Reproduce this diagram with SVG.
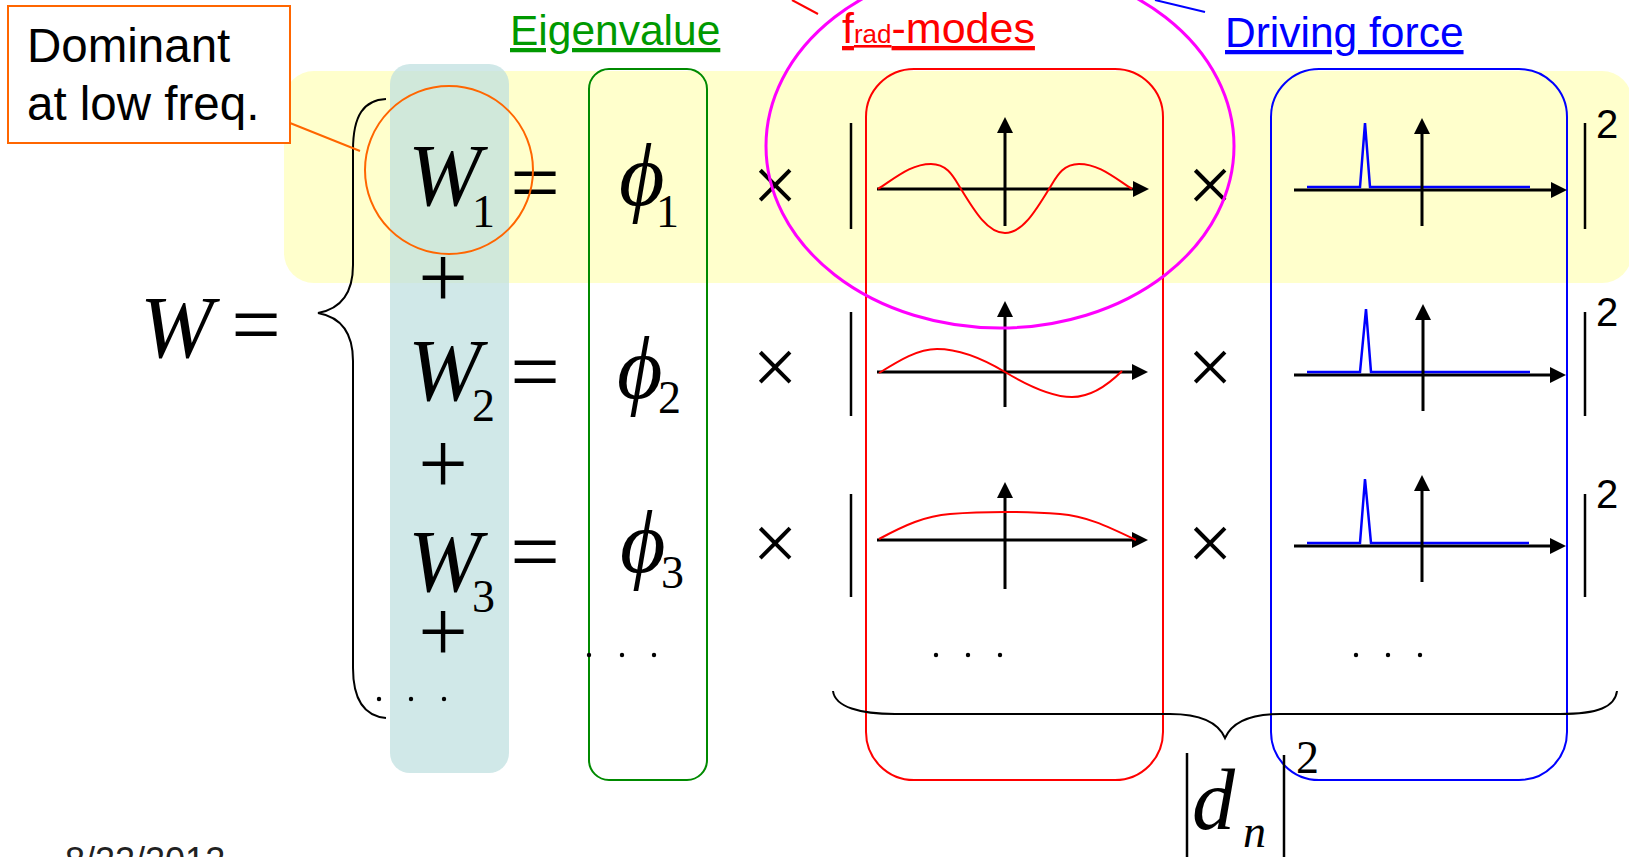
<svg xmlns="http://www.w3.org/2000/svg" width="1629" height="857" viewBox="0 0 1629 857">
<defs>
<style>
.m{font-family:"Liberation Serif","Times New Roman",serif;fill:#000}
.it{font-style:italic}
.big{font-size:88px}
.sub{font-size:46px}
.x{font-size:80px}
.sans{font-family:"Liberation Sans",Arial,sans-serif}
.sq{font-family:"Liberation Sans",Arial,sans-serif;font-size:40px;fill:#000}
.ax{stroke:#000;stroke-width:3;fill:none;marker-end:url(#arr)}
.mode{stroke:#f00;stroke-width:2;fill:none}
.drive{stroke:#00f;stroke-width:2.5;fill:none}
.bar{stroke:#000;stroke-width:2.5}
.brace{stroke:#000;stroke-width:2;fill:none}
</style>
<marker id="arr" viewBox="0 0 16 16" markerWidth="16" markerHeight="16" refX="8" refY="8" orient="auto" markerUnits="userSpaceOnUse"><path d="M0,0 L16,8 L0,16 z" fill="#000"/></marker>
</defs>
<rect width="1629" height="857" fill="#fff"/>

<g id="background">
<rect x="284" y="71" width="1348" height="212" rx="30" fill="#FFFFCC"/>
<rect x="390" y="64" width="119" height="709" rx="20" fill="#BFE0E0" fill-opacity="0.73"/>
</g>

<g id="callout">
<rect x="8" y="6" width="282" height="137" fill="#fff" stroke="#FF6600" stroke-width="2"/>
<text class="sans" font-size="47.5" x="27" y="62">Dominant</text>
<text class="sans" font-size="47.5" x="27" y="120">at low freq.</text>
</g>

<g id="label-eigenvalue">
<text class="sans" font-size="42.5" x="510" y="45" fill="#009900" text-decoration="underline">Eigenvalue</text>
</g>
<g id="label-frad">
<text class="sans" font-size="43" x="842" y="43" fill="#FF0000" text-decoration="underline">f<tspan font-size="26">rad</tspan>-modes</text>
</g>
<g id="label-driving">
<text class="sans" font-size="42.5" x="1225" y="47" fill="#0000FF" text-decoration="underline">Driving force</text>
</g>

<g id="box-eigen"><rect x="589" y="69" width="118" height="711" rx="20" fill="none" stroke="#008A00" stroke-width="2"/></g>
<g id="box-modes"><rect x="866" y="69" width="297" height="711" rx="48" fill="none" stroke="#FF0000" stroke-width="2"/></g>
<g id="box-drive"><rect x="1271" y="69" width="296" height="711" rx="48" fill="none" stroke="#0000FF" stroke-width="2"/></g>

<g id="W-sum">
<text class="m it big" x="140" y="357">W</text>
<text class="m big" x="256" y="354" text-anchor="middle">=</text>
<path class="brace" d="M386,99 C364,100 353,115 353,150 L353,265 C353,295 340,309 318,313 C340,317 353,331 353,361 L353,668 C353,700 364,716 386,718"/>
<circle cx="379" cy="699" r="2.2"/><circle cx="411" cy="699" r="2.2"/><circle cx="444" cy="699" r="2.2"/>
</g>

<g id="W-terms">
<text class="m it big" x="408" y="205">W</text><text class="m sub" x="472" y="227">1</text>
<text class="m big" x="443" y="307" text-anchor="middle">+</text>
<text class="m it big" x="408" y="400">W</text><text class="m sub" x="472" y="421">2</text>
<text class="m big" x="443" y="493" text-anchor="middle">+</text>
<text class="m it big" x="408" y="591">W</text><text class="m sub" x="472" y="612">3</text>
<text class="m big" x="443" y="661" text-anchor="middle">+</text>
</g>

<g id="equals">
<text class="m big" x="535" y="212" text-anchor="middle">=</text>
<text class="m big" x="535" y="401" text-anchor="middle">=</text>
<text class="m big" x="535" y="581" text-anchor="middle">=</text>
</g>

<g id="eigenvalues">
<text class="m it big" x="619" y="205">ϕ</text><text class="m sub" x="656" y="227">1</text>
<text class="m it big" x="617" y="398">ϕ</text><text class="m sub" x="658" y="413">2</text>
<text class="m it big" x="620" y="572">ϕ</text><text class="m sub" x="661" y="588">3</text>
<circle cx="589" cy="655" r="2.2"/><circle cx="622" cy="655" r="2.2"/><circle cx="654" cy="655" r="2.2"/>
</g>

<g id="times">
<text class="m x" x="775" y="212" text-anchor="middle">×</text>
<text class="m x" x="775" y="394" text-anchor="middle">×</text>
<text class="m x" x="775" y="570" text-anchor="middle">×</text>
<text class="m x" x="1210" y="212" text-anchor="middle">×</text>
<text class="m x" x="1210" y="394" text-anchor="middle">×</text>
<text class="m x" x="1210" y="570" text-anchor="middle">×</text>
</g>

<g id="abs-bars">
<line class="bar" x1="851" y1="123" x2="851" y2="229"/>
<line class="bar" x1="851" y1="312" x2="851" y2="416"/>
<line class="bar" x1="851" y1="494" x2="851" y2="597"/>
<line class="bar" x1="1585" y1="123" x2="1585" y2="229"/>
<line class="bar" x1="1585" y1="312" x2="1585" y2="416"/>
<line class="bar" x1="1585" y1="494" x2="1585" y2="597"/>
<text class="sq" x="1596" y="138">2</text>
<text class="sq" x="1596" y="326">2</text>
<text class="sq" x="1596" y="508">2</text>
</g>

<g id="mode-plots">
<line class="ax" x1="877" y1="189" x2="1141" y2="189"/>
<line class="ax" x1="1005" y1="226" x2="1005" y2="125"/>
<path class="mode" d="M878,189 C898,176 912,164 931,164 C948,164 954,178 961,189 C975,212 988,233 1005,233 C1022,233 1035,212 1049,189 C1056,178 1062,164 1079,164 C1098,164 1112,176 1132,189"/>
<line class="ax" x1="877" y1="372" x2="1140" y2="372"/>
<line class="ax" x1="1005" y1="407" x2="1005" y2="309"/>
<path class="mode" d="M879,373 C900,360 918,349 937,349 C960,349 985,360 1005,372 C1025,384 1050,397 1072,397 C1092,397 1108,385 1122,371"/>
<line class="ax" x1="877" y1="540" x2="1140" y2="540"/>
<line class="ax" x1="1005" y1="589" x2="1005" y2="490"/>
<path class="mode" d="M879,539 C905,525 925,516 950,514 C975,512 990,512 1005,512 C1020,512 1035,512 1060,514 C1085,516 1105,525 1136,540"/>
<circle cx="936" cy="655" r="2.2"/><circle cx="968" cy="655" r="2.2"/><circle cx="1000" cy="655" r="2.2"/>
</g>

<g id="drive-plots">
<line class="ax" x1="1294" y1="190" x2="1559" y2="190"/>
<polyline class="drive" points="1307,187 1360,187 1365,123 1370,187 1530,187"/>
<line class="ax" x1="1422" y1="226" x2="1422" y2="126"/>
<line class="ax" x1="1294" y1="375" x2="1558" y2="375"/>
<polyline class="drive" points="1307,372 1360,372 1366,309 1371,372 1530,372"/>
<line class="ax" x1="1423" y1="411" x2="1423" y2="312"/>
<line class="ax" x1="1294" y1="546" x2="1558" y2="546"/>
<polyline class="drive" points="1307,543 1360,543 1365,479 1371,543 1529,543"/>
<line class="ax" x1="1422" y1="582" x2="1422" y2="483"/>
<circle cx="1356" cy="655" r="2.2"/><circle cx="1388" cy="655" r="2.2"/><circle cx="1420" cy="655" r="2.2"/>
</g>

<g id="dn-term">
<path class="brace" d="M833,691 C835,707 860,714 895,714 L1170,714 C1200,714 1218,722 1225,738 C1232,722 1250,714 1280,714 L1560,714 C1598,714 1615,707 1617,691"/>
<line class="bar" x1="1187" y1="753" x2="1187" y2="860"/>
<line class="bar" x1="1284" y1="755" x2="1284" y2="860"/>
<text class="m it" font-size="86" x="1192" y="829">d</text>
<text class="m it sub" x="1243" y="847">n</text>
<text class="m sub" x="1296" y="773">2</text>
</g>

<g id="date">
<text class="sans" font-size="36" x="65" y="873" fill="#222">8/22/2012</text>
</g>

<g id="connectors">
<line x1="290" y1="123" x2="360" y2="151" stroke="#FF6600" stroke-width="2"/>
<line x1="792" y1="0" x2="818" y2="14" stroke="#FF0000" stroke-width="2"/>
<line x1="1155" y1="0" x2="1205" y2="12" stroke="#0000FF" stroke-width="2"/>
</g>

<g id="highlights">
<circle cx="449" cy="170" r="84" fill="none" stroke="#FF6600" stroke-width="2"/>
<ellipse cx="1000" cy="146" rx="234" ry="182" fill="none" stroke="#FF00FF" stroke-width="3"/>
</g>
</svg>
